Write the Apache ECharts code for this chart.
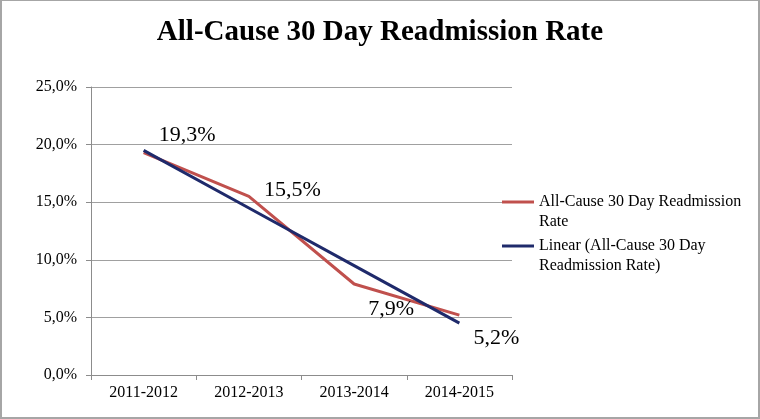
<!DOCTYPE html>
<html>
<head>
<meta charset="utf-8">
<script src="https://cdn.jsdelivr.net/npm/echarts@6/dist/echarts.min.js"></script>
<style>
html,body{margin:0;padding:0;background:#fff;}
#wrap{position:relative;width:760px;height:419px;}
#chart{position:absolute;left:0;top:0;width:760px;height:419px;}
#frame{position:absolute;left:0;top:0;width:760px;height:419px;box-sizing:border-box;border:2px solid #a6a6a6;border-top-width:1px;pointer-events:none;}
</style>
</head>
<body>
<div id="wrap"><div id="chart"></div><div id="frame"></div></div>
<script>
const titleText = 'All-Cause 30 Day Readmission Rate';
const categories = ['2011-2012', '2012-2013', '2013-2014', '2014-2015'];
const rateName = 'All-Cause 30 Day Readmission Rate';
const rateValues = [19.3, 15.5, 7.9, 5.2];
const trendName = 'Linear (All-Cause 30 Day Readmission Rate)';
const trendValues = [19.5, 14.5, 9.5, 4.5];
const rateLegendText = 'All-Cause 30 Day Readmission\nRate';
const trendLegendText = 'Linear (All-Cause 30 Day\nReadmission Rate)';
const yMin = 0, yMax = 25, yStep = 5;

const fmt = v => v.toFixed(1).replace('.', ',') + '%';
const serif = '"Liberation Serif", "Times New Roman", serif';
const labelOffsets = [[15, -17], [15, -6], [14, 25], [14, 23]];

const chart = echarts.init(document.getElementById('chart'), null, {renderer: 'canvas'});
const legendStyle = {fontFamily: serif, fontSize: 16, color: '#000', lineHeight: 20};
chart.setOption({
  animation: false,
  backgroundColor: '#fff',
  title: {
    text: titleText, left: 'center', top: 13,
    textStyle: {fontFamily: serif, fontWeight: 'bold', fontSize: 29, color: '#000'}
  },
  grid: {left: 91, right: 248, top: 87, bottom: 44, containLabel: false},
  legend: [
    {
      data: [rateName], left: 502, top: 172, padding: 0, orient: 'vertical',
      icon: 'rect', itemWidth: 32, itemHeight: 3,
      formatter: () => '\u00a0\n' + rateLegendText,
      textStyle: legendStyle
    },
    {
      data: [trendName], left: 502, top: 216, padding: 0, orient: 'vertical',
      icon: 'rect', itemWidth: 32, itemHeight: 3,
      formatter: () => '\u00a0\n' + trendLegendText,
      textStyle: legendStyle
    }
  ],
  xAxis: {
    type: 'category', data: categories, boundaryGap: true,
    axisLine: {lineStyle: {color: '#8c8c8c', width: 1}},
    axisTick: {show: true, length: 5, alignWithLabel: false, lineStyle: {color: '#8c8c8c'}},
    axisLabel: {fontFamily: serif, fontSize: 16, color: '#000', margin: 10}
  },
  yAxis: {
    type: 'value', min: yMin, max: yMax, interval: yStep,
    axisLine: {show: true, lineStyle: {color: '#8c8c8c', width: 1}},
    axisTick: {show: true, length: 5, lineStyle: {color: '#8c8c8c'}},
    splitLine: {lineStyle: {color: '#a0a0a0', width: 1}},
    axisLabel: {fontFamily: serif, fontSize: 16, color: '#000', margin: 14, formatter: fmt}
  },
  series: [
    {
      name: rateName, type: 'line', data: rateValues.map((v, i) => ({
        value: v,
        label: {offset: labelOffsets[i]}
      })),
      color: '#C0504D', lineStyle: {color: '#C0504D', width: 3},
      symbol: 'circle', symbolSize: 0.01, showSymbol: true,
      label: {show: true, position: 'right', distance: 0, fontFamily: serif, fontSize: 22, color: '#000',
        formatter: p => fmt(p.value)},
      z: 2
    },
    {
      name: trendName, type: 'line', data: trendValues,
      color: '#1F2A6B', lineStyle: {color: '#1F2A6B', width: 3},
      symbol: 'none', showSymbol: false, z: 3
    }
  ]
});
</script>
</body>
</html>
